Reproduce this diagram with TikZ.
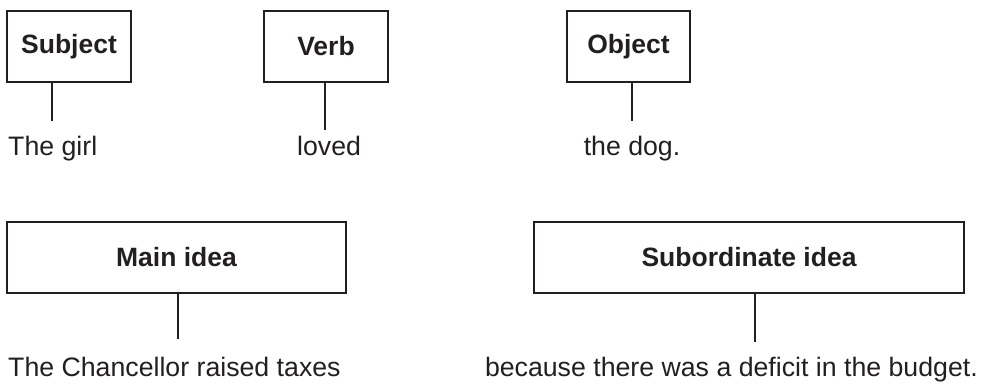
\documentclass[tikz,border=0pt]{standalone}
\usepackage{fontspec}
\setmainfont{Liberation Sans}
\definecolor{ink}{HTML}{231F20}
\begin{document}
\begin{tikzpicture}[x=1pt,y=-1pt,
  labelbox/.style={draw=ink,line width=2pt,inner sep=0pt,minimum height=71pt,
    font=\fontsize{26.5}{32}\selectfont\bfseries,text=ink},
  words/.style={inner sep=0pt,font=\fontsize{26.7}{32}\selectfont,text=ink},
  stem/.style={draw=ink,line width=2pt}]
\useasboundingbox (0,0) rectangle (987,385);
% top row
\node[labelbox,minimum width=124pt] (subj) at (69,46.5) {Subject};
\node[labelbox,minimum width=124pt] (verb) at (326,46.5) {Verb};
\node[labelbox,minimum width=123pt] (obj) at (628.5,46.5) {Object};
\node[words,anchor=base west] (t1) at (8,155) {The girl};
\node[words,anchor=base west] (t2) at (297,155) {loved};
\node[words,anchor=base] (t3) at (632,155) {the dog.};
\coordinate (e1) at (52,121);
\coordinate (e2) at (325,130);
\coordinate (e3) at (632,121);
\draw[stem] (e1 |- subj.south) -- (e1);
\draw[stem] (e2 |- verb.south) -- (e2);
\draw[stem] (e3 |- obj.south) -- (e3);
% bottom row
\node[labelbox,minimum width=339pt] (main) at (176.5,257.5) {Main idea};
\node[labelbox,minimum width=430pt] (sub) at (749,257.5) {Subordinate idea};
\node[words,anchor=base west] (t4) at (8,376) {The Chancellor raised taxes};
\node[words,anchor=base east] (t5) at (978,376) {because there was a deficit in the budget.};
\coordinate (e4) at (178,339);
\coordinate (e5) at (755,342);
\draw[stem] (e4 |- main.south) -- (e4);
\draw[stem] (e5 |- sub.south) -- (e5);
\end{tikzpicture}
\end{document}
